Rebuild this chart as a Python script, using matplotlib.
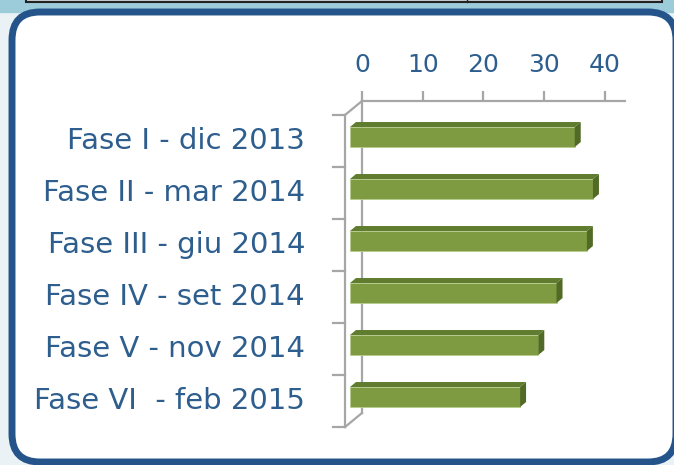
import numpy as np
import matplotlib.pyplot as plt
from matplotlib.patches import FancyBboxPatch, Polygon, Rectangle

phases = ["Fase I - dic 2013", "Fase II - mar 2014", "Fase III - giu 2014",
          "Fase IV - set 2014", "Fase V - nov 2014", "Fase VI  - feb 2015"]
values = [37, 40, 39, 34, 31, 28]
ticks = [0, 10, 20, 30, 40]

W, H = 674, 465
text_blue = '#2E5E8E'
axis_grey = '#A6A6A6'
plt.rcParams['font.family'] = ['DejaVu Sans']

fig = plt.figure(figsize=(W / 100, H / 100), dpi=100)
fig.patch.set_facecolor('#EAF2F5')

# background: top strip and the rounded frame, in pixel units
bg = fig.add_axes([0, 0, 1, 1])
bg.set_xlim(0, W)
bg.set_ylim(H, 0)
bg.axis('off')
bg.add_patch(Rectangle((0, 0), W, 12, color='#9CCBDA'))
bg.add_patch(Rectangle((26, -3), 636, 5.5, facecolor='#C9CED1', edgecolor='#222222', lw=1.5))
bg.plot([467, 467], [0, 2.5], color='#222222', lw=1)
bg.add_patch(FancyBboxPatch((12, 12), 664, 450, boxstyle="round,pad=0,rounding_size=28",
                            facecolor='white', edgecolor='#24548A', lw=5))

# chart area = back wall of the 3D plot
ax = fig.add_axes([362 / W, 1 - 413 / H, 263 / W, 312 / H])
ax.patch.set_alpha(0)
xmax = 43.3
ax.set_xlim(0, xmax)
ax.set_ylim(len(phases), 0)
ux = xmax / 263
uy = len(phases) / 312

for s in ['right', 'bottom']:
    ax.spines[s].set_visible(False)
for s in ['top', 'left']:
    ax.spines[s].set_color(axis_grey)
    ax.spines[s].set_linewidth(1.6)
ax.xaxis.tick_top()
ax.set_xticks(ticks)
ax.set_xticklabels([str(t) for t in ticks])
ax.set_yticks([])
ax.tick_params(axis='x', direction='out', length=7, width=1.6, color=axis_grey,
               labelsize=18, labelcolor=text_blue, pad=10)

# floor / front edge of the 3D box
dx, dy = -17 * ux, 14 * uy
n = len(phases)
ax.plot([0, dx], [0, dy], color=axis_grey, lw=1.6, clip_on=False, zorder=1)
ax.plot([0, dx], [n, n + dy], color=axis_grey, lw=1.6, clip_on=False, zorder=1)
ax.plot([dx, dx], [dy, n + dy], color=axis_grey, lw=1.6, clip_on=False, zorder=1)
for i in range(n + 1):
    ax.plot([dx - 12 * ux, dx], [i + dy, i + dy], color=axis_grey, lw=1.6,
            clip_on=False, zorder=1)

# bars with top and side faces
fx, fy = -12 * ux, 10 * uy
bx, by = -6 * ux, 5 * uy
h = 0.385
for i, v in enumerate(values):
    top = i + 0.308
    ax.barh(top + fy + h / 2, v, left=fx, height=h, color='#7F9B42',
            edgecolor='#B9CC8E', lw=0.6, clip_on=False, zorder=3)
    ax.add_patch(Polygon([(fx, top + fy), (v + fx, top + fy), (v + bx, top + by), (bx, top + by)],
                         closed=True, facecolor='#607C2F', edgecolor='none',
                         clip_on=False, zorder=3))
    ax.add_patch(Polygon([(v + fx, top + fy), (v + bx, top + by), (v + bx, top + h + by),
                          (v + fx, top + h + fy)], closed=True, facecolor='#516B26',
                         edgecolor='none', clip_on=False, zorder=3))

for i, name in enumerate(phases):
    ax.text(-57 * ux, i + 0.5 + dy, name, ha='right', va='center', fontsize=21,
            color=text_blue, clip_on=False)

plt.savefig("out.png", dpi=100, facecolor=fig.get_facecolor())
